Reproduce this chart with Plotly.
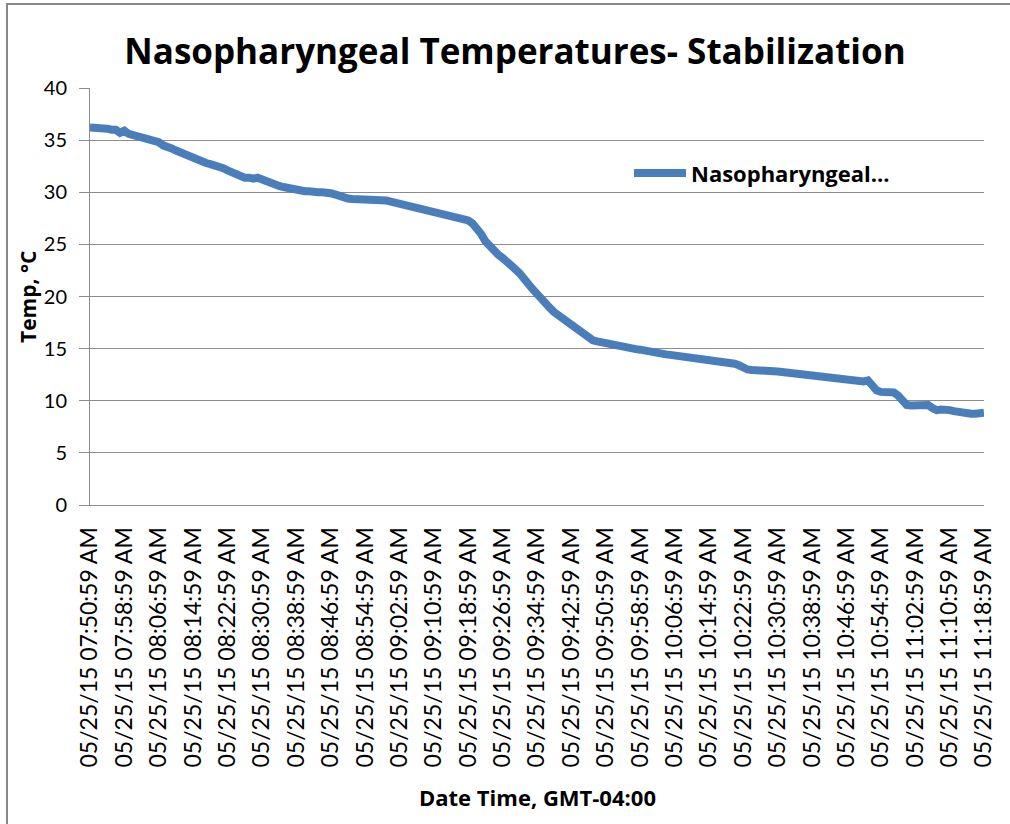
import plotly.graph_objects as go
from datetime import datetime, timedelta

# ---------------- data ----------------
start_time = "05/25/15 07:50:59 AM"
n_points = 209  # one reading per minute, 07:50:59 .. 11:18:59

temps = [
    36.2, 36.2, 36.2, 36.1, 36.1, 36.0, 36.0, 35.7, 35.9, 35.6,
    35.5, 35.4, 35.3, 35.1, 35.0, 34.9, 34.8, 34.5, 34.4, 34.2,
    34.0, 33.8, 33.6, 33.5, 33.3, 33.2, 33.0, 32.8, 32.7, 32.6,
    32.5, 32.3, 32.1, 31.9, 31.7, 31.5, 31.4, 31.4, 31.3, 31.4,
    31.2, 31.0, 30.9, 30.7, 30.6, 30.5, 30.4, 30.3, 30.2, 30.2,
    30.1, 30.1, 30.0, 30.0, 30.0, 30.0, 29.9, 29.8, 29.6, 29.5,
    29.4, 29.35, 29.35, 29.35, 29.35, 29.3, 29.3, 29.3, 29.2, 29.2,
    29.1, 29.0, 29.0, 28.9, 28.8, 28.7, 28.6, 28.5, 28.4, 28.3,
    28.1, 28.0, 27.9, 27.9, 27.7, 27.6, 27.6, 27.4, 27.3, 27.0,
    26.6, 26.0, 25.3, 24.8, 24.4, 24.0, 23.7, 23.4, 23.0, 22.6,
    22.2, 21.8, 21.2, 20.7, 20.2, 19.8, 19.3, 18.9, 18.5, 18.2,
    17.9, 17.5, 17.2, 16.9, 16.6, 16.3, 16.0, 15.8, 15.7, 15.6,
    15.5, 15.4, 15.35, 15.3, 15.2, 15.1, 15.0, 14.95, 14.9, 14.8,
    14.7, 14.65, 14.55, 14.5, 14.45, 14.4, 14.35, 14.3, 14.25, 14.2,
    14.15, 14.1, 14.05, 14.0, 13.95, 13.9, 13.85, 13.8, 13.7, 13.6,
    13.55, 13.4, 13.1, 13.0, 12.95, 12.95, 12.95, 12.95, 12.9, 12.85,
    12.8, 12.75, 12.7, 12.65, 12.6, 12.55, 12.5, 12.45, 12.4, 12.4,
    12.4, 12.35, 12.3, 12.2, 12.15, 12.1, 12.05, 12.0, 11.95, 11.9,
    11.85, 11.95, 11.5, 11.0, 10.85, 10.85, 10.8, 10.8, 10.5, 10.0,
    9.6, 9.55, 9.55, 9.6, 9.7, 9.6, 9.3, 9.1, 9.15, 9.2,
    9.1, 9.0, 8.9, 8.8, 8.75, 8.75, 8.75, 8.75, 8.85,
]

label_step = 8
y_ticks = [0, 5, 10, 15, 20, 25, 30, 35, 40]

series_name = "Nasopharyngeal..."
title_text = "Nasopharyngeal Temperatures- Stabilization"
x_title = "Date Time, GMT-04:00"
y_title = "Temp, °C"

fmt = "%m/%d/%y %I:%M:%S %p"
t0 = datetime.strptime(start_time, fmt)
categories = [(t0 + timedelta(minutes=k)).strftime(fmt) for k in range(n_points)]
tick_labels = categories[::label_step]

# ---------------- figure ----------------
W, H = 1010, 824
L, R, T, B = 90, 26, 88, 319
pw, ph = W - L - R, H - T - B

def px_x(x):
    return (x - L) / pw

def px_y(y):
    return (H - B - y) / ph

line_color = "#4A7EBB"
grid_color = "#8C8C8C"
font_family = "'Open Sans', Lato, sans-serif"
tick_family = "Lato, 'Open Sans', sans-serif"

fig = go.Figure()
fig.add_trace(go.Scatter(
    x=categories, y=temps, mode="lines", name=series_name,
    line=dict(color=line_color, width=8, shape="linear"),
    showlegend=False,
))

fig.update_layout(
    width=W, height=H,
    margin=dict(l=L, r=R, t=T, b=B, autoexpand=False),
    paper_bgcolor="white", plot_bgcolor="white",
    font=dict(family=font_family, color="black"),
    title=dict(
        text="<b>" + title_text + "</b>",
        font=dict(family=font_family, size=35, color="black"),
        x=515 / W, xanchor="center", xref="container",
        y=1 - 52 / H, yanchor="middle", yref="container",
    ),
    xaxis=dict(
        type="category",
        categoryorder="array", categoryarray=categories,
        range=[0, n_points - 1],
        tickmode="array", tickvals=tick_labels, ticktext=tick_labels,
        tickangle=-90,
        tickfont=dict(family=tick_family, size=23, color="black"),
        showgrid=False,
        showline=True, linecolor=grid_color, linewidth=1,
        ticks="", ticklabelstandoff=12,
        zeroline=False,
    ),
    yaxis=dict(
        range=[0, 40], tickmode="array", tickvals=y_ticks,
        ticktext=[str(v) for v in y_ticks],
        tickfont=dict(family=tick_family, size=20, color="black"),
        showgrid=True, gridcolor=grid_color, gridwidth=1,
        showline=True, linecolor=grid_color, linewidth=1,
        ticks="outside", ticklen=10, tickcolor=grid_color,
        ticklabelstandoff=8,
        zeroline=False,
    ),
    showlegend=False,
)

# axis titles
fig.add_annotation(
    text="<b>" + x_title + "</b>", xref="paper", yref="paper",
    x=px_x(537), y=px_y(797), xanchor="center", yanchor="middle",
    showarrow=False, font=dict(family=font_family, size=22, color="black"),
)
fig.add_annotation(
    text="<b>" + y_title + "</b>", xref="paper", yref="paper",
    x=px_x(28), y=px_y(297), xanchor="center", yanchor="middle",
    textangle=-90, showarrow=False,
    font=dict(family=font_family, size=21, color="black"),
)

# legend (Excel-style, drawn at top right inside plot)
fig.add_shape(
    type="line", xref="paper", yref="paper",
    x0=px_x(634), x1=px_x(686), y0=px_y(173), y1=px_y(173),
    line=dict(color=line_color, width=8),
)
fig.add_annotation(
    text="<b>" + series_name + "</b>", xref="paper", yref="paper",
    x=px_x(689), y=px_y(173), xanchor="left", yanchor="middle",
    showarrow=False, font=dict(family=font_family, size=22, color="black"),
)

# chart-area frame (only top and left edges are visible in the reference)
frame_color = "#888888"
fig.add_shape(
    type="line", xref="paper", yref="paper",
    x0=px_x(6), x1=px_x(W), y0=px_y(4), y1=px_y(4),
    line=dict(color=frame_color, width=2), layer="below",
)
fig.add_shape(
    type="line", xref="paper", yref="paper",
    x0=px_x(7), x1=px_x(7), y0=px_y(3), y1=px_y(H),
    line=dict(color=frame_color, width=2), layer="below",
)

fig.write_html(
    "out.html",
    config={"displayModeBar": False},
    post_script="document.body.style.margin='0px';document.body.style.overflow='hidden';",
)
